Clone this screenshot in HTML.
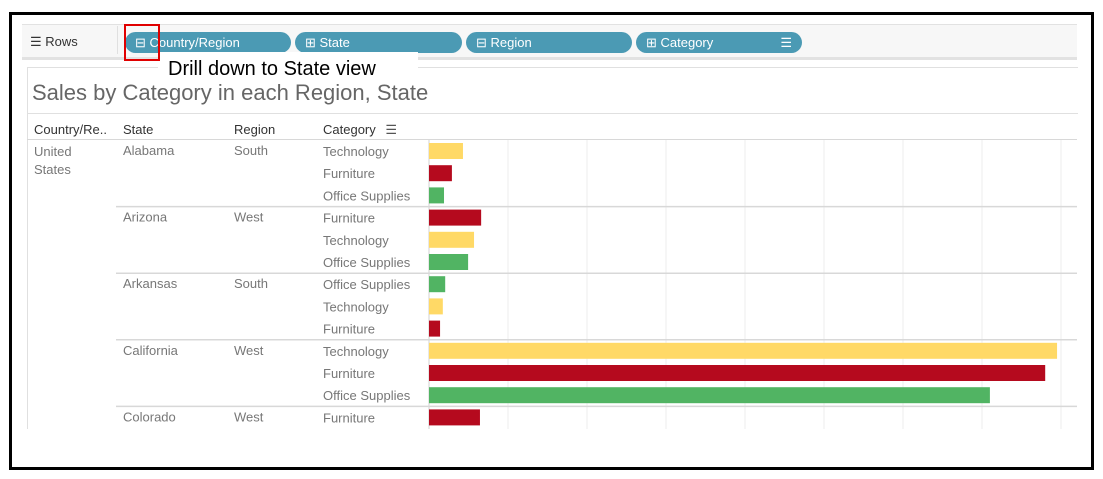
<!DOCTYPE html>
<html><head><meta charset="utf-8"><style>
body{margin:0;width:1103px;height:479px;background:#fff;position:relative;overflow:hidden;font-family:"Liberation Sans",sans-serif}
.a{position:absolute}
.pill{position:absolute;top:32px;height:21px;background:#4b9ab4;border-radius:11px;color:#fff;font-size:13px;line-height:21px;padding-left:10px;box-sizing:border-box}
.t{position:absolute;font-size:13px;color:#777;white-space:nowrap}
.h{position:absolute;font-size:13px;color:#333;white-space:nowrap}
</style></head><body>
<div class="a" style="left:9px;top:12px;width:1079px;height:452px;border:3px solid #000"></div>
<div class="a" style="left:22px;top:24px;width:1055px;height:32px;background:#f7f7f7;border-top:1px solid #e2e2e2;border-bottom:2px solid #e2e2e2"></div>
<div class="a" style="left:22px;top:59px;width:1055px;height:1px;background:#e2e2e2"></div>
<div class="h" style="left:30px;top:34px;font-size:13px">☰ Rows</div>
<div class="a" style="left:117px;top:26px;width:1px;height:28px;background:#e0e0e0"></div>
<div class="pill" style="left:125px;width:166px">⊟ Country/Region</div>
<div class="pill" style="left:295px;width:167px">⊞ State</div>
<div class="pill" style="left:466px;width:166px">⊟ Region</div>
<div class="pill" style="left:636px;width:166px">⊞ Category<span style="position:absolute;right:10px;top:0">☰</span></div>
<div class="a" style="left:27px;top:67px;width:1050px;height:45px;border:1px solid #e0e0e0;border-right:none"></div>
<div class="a" style="left:27px;top:67px;width:1px;height:362px;background:#e0e0e0"></div>
<div class="a" style="left:32px;top:80px;font-size:22px;color:#666">Sales by Category in each Region, State</div>
<div class="a" style="left:158px;top:52px;width:260px;height:31px;background:#fff;font-size:20px;color:#000;line-height:34px;padding-left:10px;box-sizing:border-box;white-space:nowrap">Drill down to State view</div>
<div class="a" style="left:124px;top:24px;width:32px;height:33px;border:2px solid #e00000"></div>
<div class="h" style="left:34px;top:122px">Country/Re..</div>
<div class="h" style="left:123px;top:122px">State</div>
<div class="h" style="left:234px;top:122px">Region</div>
<div class="h" style="left:323px;top:122px">Category <span style="margin-left:6px;color:#555">☰</span></div>
<div class="a" style="left:27px;top:139px;width:1050px;height:1px;background:#d8d8d8"></div>
<div class="t" style="left:34px;top:143px;line-height:18px">United<br>States</div>
<svg class="a" id="chart" style="left:0;top:0" width="1103" height="479"></svg>
<script>
const states=["Alabama","Arizona","Arkansas","California","Colorado"];
const regions=["South","West","South","West","West"];
const cats=[["Technology","Furniture","Office Supplies"],["Furniture","Technology","Office Supplies"],["Office Supplies","Technology","Furniture"],["Technology","Furniture","Office Supplies"],["Furniture"]];
const sales=[[8.6,5.8,3.8],[13.2,11.4,9.9],[4.1,3.5,2.8],[159,156,142],[12.9]];
const gridTicks=[20,40,60,80,100,120,140,160];
const colors={"Technology":"#ffd966","Furniture":"#b50a1e","Office Supplies":"#51b463"};
const svg=document.getElementById('chart');const NS='http://www.w3.org/2000/svg';
const x0=429,pxPer=3.95,rowH=22.2,top0=140;
const xs=v=>x0+v*pxPer;
function mk(t,a){const e=document.createElementNS(NS,t);for(const k in a)e.setAttribute(k,a[k]);svg.appendChild(e);return e;}
gridTicks.forEach(g=>{const l=mk('line',{x1:xs(g),x2:xs(g),y1:140,y2:429,stroke:'#eeeeee'});

});
const ax=mk('line',{x1:x0,x2:x0,y1:140,y2:429,stroke:'#d0d0d0'});


let r=0;
states.forEach((s,i)=>{
 const yTop=top0+r*rowH;
 if(i>0){const d=mk('line',{x1:116,x2:1077,y1:yTop,y2:yTop,stroke:'#d8d8d8','stroke-width':1.5});
 
 }
 const st=mk('text',{x:123,y:yTop+15,'font-size':13,fill:'#777','font-family':'Liberation Sans'});st.textContent=s;
 
 
 const rg=mk('text',{x:234,y:yTop+15,'font-size':13,fill:'#777','font-family':'Liberation Sans'});rg.textContent=regions[i];
 
 
 cats[i].forEach((c,j)=>{
  const y=top0+r*rowH;
  const ct=mk('text',{x:323,y:y+16,'font-size':13,fill:'#777','font-family':'Liberation Sans'});ct.textContent=c;
  
  
  const b=mk('rect',{x:x0,y:y+3,width:xs(sales[i][j])-x0,height:16,fill:colors[c]});
  
  
  r++;
 });
});
</script>
</body></html>
